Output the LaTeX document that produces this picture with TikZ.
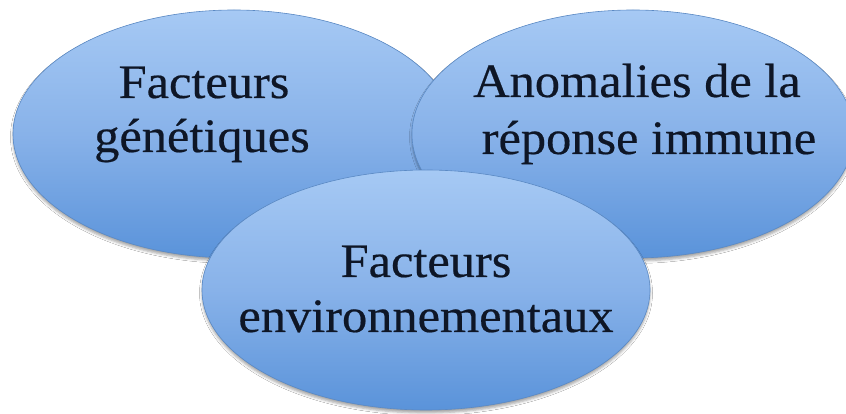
\documentclass[tikz,border=0pt]{standalone}
\usepackage{fontspec}
\setmainfont[FakeStretch=1.05,FakeBold=0.4]{Liberation Serif}
\usetikzlibrary{shapes.geometric,shadows.blur}
\definecolor{btop}{HTML}{A6C9F4}
\definecolor{bmid}{HTML}{88B2E9}
\definecolor{bbot}{HTML}{5A93DA}
\definecolor{bedge}{HTML}{5A89C4}
\definecolor{txt}{HTML}{0E1626}
\tikzset{
  blob/.style={ellipse, inner sep=0pt, draw=bedge, line width=0.6pt,
    top color=btop, bottom color=bbot, middle color=bmid,
    blur shadow={shadow xshift=0pt, shadow yshift=-3pt, shadow blur radius=2.5pt, shadow opacity=35}},
  lbl/.style={anchor=base, inner sep=0pt, text=txt, font=\fontsize{48}{56}\selectfont}
}
\begin{document}
\begin{tikzpicture}[x=1pt,y=1pt]
\useasboundingbox (0,0) rectangle (846,414);
\fill[white] (0,0) rectangle (846,414);
\node[blob, minimum width=442pt, minimum height=248pt] (gen) at (234,280) {};
\node[lbl] (g1) at (204,316) {Facteurs};
\node[lbl] (g2) at (202,262) {génétiques};
\node[blob, minimum width=442pt, minimum height=248pt] (imm) at (633,280) {};
\node[lbl] (a1) at (637,317) {Anomalies de la};
\node[lbl] (a2) at (649,260) {réponse immune};
\node[blob, minimum width=448pt, minimum height=240pt] (env) at (426,124) {};
\node[lbl] (e1) at (426,137) {Facteurs};
\node[lbl] (e2) at (426,82) {environnementaux};
\end{tikzpicture}
\end{document}
